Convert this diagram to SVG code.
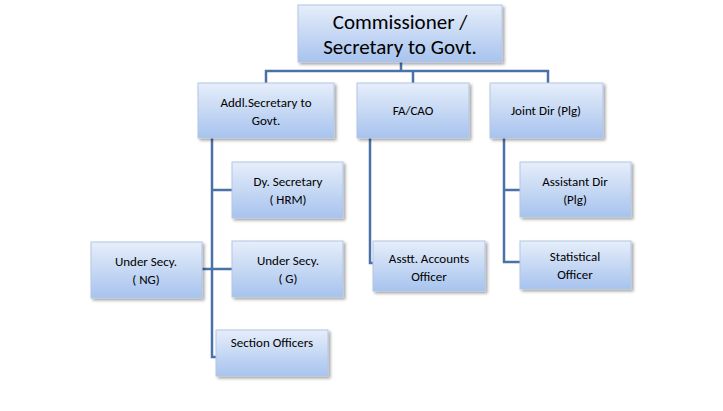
<svg xmlns="http://www.w3.org/2000/svg" width="723" height="411" viewBox="0 0 723 411">
<defs>
<linearGradient id="g" x1="0" y1="0" x2="0" y2="1"><stop offset="0" stop-color="#e6eefa"/><stop offset="1" stop-color="#a7c3ee"/></linearGradient>
<filter id="s" x="-10%" y="-10%" width="130%" height="140%"><feDropShadow dx="2" dy="2" stdDeviation="1.5" flood-color="#000" flood-opacity="0.35"/></filter>
</defs>
<style>
.b{fill:url(#g);stroke:#b3c6e4;stroke-width:1;filter:url(#s)}
.t{font-family:"Carlito","Liberation Sans",sans-serif;font-size:13px;fill:#000;text-anchor:middle}
.c{fill:none;stroke:#4a72a8;stroke-width:2.5}
</style>
<rect width="723" height="411" fill="#fff"/>
<g id="connectors">
<path class="c" d="M401 62V71M266 83V71H548V83M413 71V83"/>
<path class="c" d="M212 138V357H216M212 190H232M212 269H232M202 269H212"/>
<path class="c" d="M370 138V263H373"/>
<path class="c" d="M504 138V262H520M504 190H520"/>
</g>
<g id="n-top"><rect class="b" x="298" y="5" width="204" height="57"/><text class="t" style="font-size:21px" x="400" y="29">Commissioner /</text><text class="t" style="font-size:21px" x="400" y="54">Secretary to Govt.</text></g>
<g id="n-addl"><rect class="b" x="198" y="83" width="136" height="55"/><text class="t" x="266" y="107">Addl.Secretary to</text><text class="t" x="266" y="125">Govt.</text></g>
<g id="n-fa"><rect class="b" x="357" y="83" width="112" height="55"/><text class="t" x="413" y="115">FA/CAO</text></g>
<g id="n-joint"><rect class="b" x="490" y="83" width="113" height="55"/><text class="t" x="546" y="115">Joint Dir (Plg)</text></g>
<g id="n-dy"><rect class="b" x="232" y="162" width="111" height="56"/><text class="t" x="288" y="186">Dy. Secretary</text><text class="t" x="288" y="204">( HRM)</text></g>
<g id="n-usg"><rect class="b" x="232" y="241" width="111" height="56"/><text class="t" x="288" y="265">Under Secy.</text><text class="t" x="288" y="283">( G)</text></g>
<g id="n-usng"><rect class="b" x="91" y="242" width="111" height="56"/><text class="t" x="146" y="266">Under Secy.</text><text class="t" x="146" y="284">( NG)</text></g>
<g id="n-so"><rect class="b" x="216" y="330" width="112" height="46"/><text class="t" x="272" y="347">Section Officers</text></g>
<g id="n-aao"><rect class="b" x="373" y="241" width="112" height="50"/><text class="t" x="429" y="263">Asstt. Accounts</text><text class="t" x="429" y="281">Officer</text></g>
<g id="n-ad"><rect class="b" x="520" y="162" width="111" height="55"/><text class="t" x="575" y="186">Assistant Dir</text><text class="t" x="575" y="204">(Plg)</text></g>
<g id="n-so2"><rect class="b" x="520" y="241" width="111" height="48"/><text class="t" x="575" y="261">Statistical</text><text class="t" x="575" y="279">Officer</text></g>
</svg>
